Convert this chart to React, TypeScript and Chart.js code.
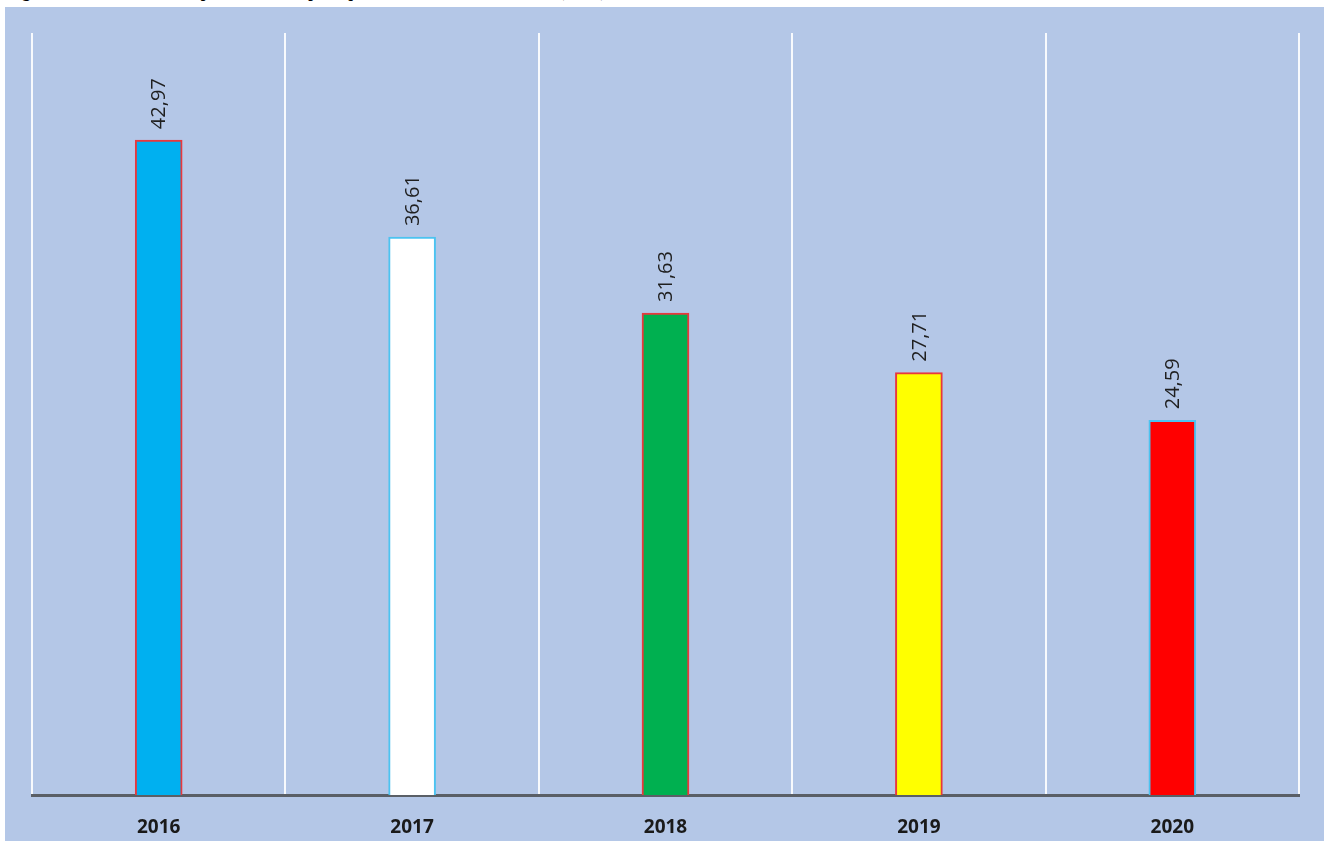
import React, { useEffect, useRef } from "react";
import { Chart, registerables } from "chart.js";

Chart.register(...registerables);

const years = ["2016", "2017", "2018", "2019", "2020"];
const values = [42.97, 36.61, 31.63, 27.71, 24.59];
const fillColors = ["#00B0F0", "#FFFFFF", "#00B050", "#FFFF00", "#FF0000"];
const borderColors = ["#E8383D", "#4CC3F0", "#E8383D", "#E8383D", "#4CC3F0"];
const yMin = 0;
const yMax = 50;

const titleText = "Figure n°4 : Evolution de la part de la dette publique dans le PIB de 2016 à 2020 (en %)";

const labelPlugin = {
  id: "barValueLabels",
  afterDatasetsDraw(chart: any) {
    const ctx = chart.ctx;
    const meta = chart.getDatasetMeta(0);
    ctx.save();
    ctx.font = '20px "Open Sans"';
    ctx.fillStyle = "#1F1F1F";
    ctx.textAlign = "left";
    ctx.textBaseline = "middle";
    meta.data.forEach((el: any, i: number) => {
      const txt = values[i].toFixed(2).replace(".", ",");
      ctx.save();
      ctx.translate(el.x + 1, el.y - 11);
      ctx.rotate(-Math.PI / 2);
      ctx.fillText(txt, 0, 0);
      ctx.restore();
    });
    ctx.restore();
  },
};

export default function App() {
  const ref = useRef<HTMLCanvasElement | null>(null);

  useEffect(() => {
    if (!ref.current) return;
    const chart = new Chart(ref.current, {
      type: "bar",
      data: {
        labels: years,
        datasets: [
          {
            data: values,
            backgroundColor: fillColors,
            borderColor: borderColors,
            borderWidth: 2,
            barThickness: 47,
          },
        ],
      },
      options: {
        responsive: false,
        animation: false,
        layout: { padding: { left: 27, right: 25, top: 26, bottom: 0 } },
        plugins: {
          legend: { display: false },
          tooltip: { enabled: false },
          title: { display: false },
        },
        scales: {
          x: {
            grid: {
              color: "rgba(255,255,255,0.9)",
              lineWidth: 2,
              drawTicks: false,
              offset: true,
            },
            border: { display: true, color: "#5A5F66", width: 3 },
            ticks: {
              color: "#1A1A1A",
              font: { family: "Open Sans", size: 19, weight: "bold" },
              padding: 21,
            },
            afterFit(scale: any) {
              scale.height = 46;
            },
          },
          y: {
            display: false,
            min: yMin,
            max: yMax,
          },
        },
      },
      plugins: [labelPlugin],
    });
    return () => chart.destroy();
  }, []);

  return (
    <div
      style={{
        position: "absolute",
        left: 0,
        top: 0,
        width: 1331,
        height: 841,
        overflow: "hidden",
        background: "#FFFFFF",
      }}
    >
      <div
        style={{
          position: "absolute",
          left: 8,
          top: -17,
          whiteSpace: "nowrap",
          fontFamily: '"Liberation Serif", "Times New Roman", serif',
          fontWeight: "bold",
          fontSize: 16,
          color: "#000",
        }}
      >
        {titleText}
      </div>
      <div
        style={{
          position: "absolute",
          left: 5,
          top: 7,
          width: 1319,
          height: 834,
          background: "#B4C7E7",
        }}
      >
        <canvas ref={ref} width={1319} height={834} style={{ display: "block" }} />
      </div>
    </div>
  );
}
